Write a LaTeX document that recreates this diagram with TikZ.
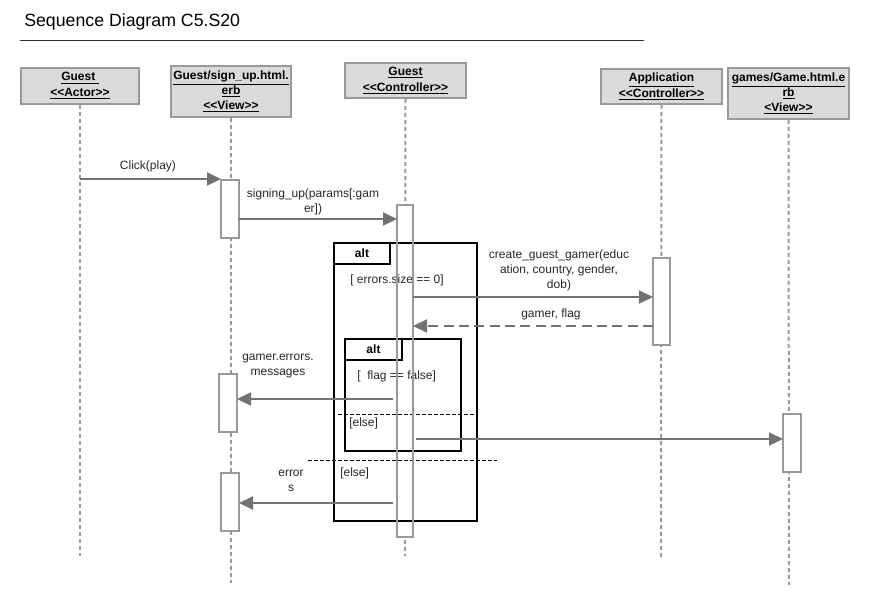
\documentclass[tikz,border=0pt]{standalone}
\usepackage{fontspec}
\setmainfont{Liberation Sans}
\usetikzlibrary{arrows.meta}
\definecolor{hdrfill}{HTML}{DADADA}
\definecolor{hdrline}{HTML}{999999}
\definecolor{msgcol}{HTML}{727272}
\begin{document}
\begin{tikzpicture}[x=0.75pt,y=-0.75pt,
  hdr/.style={draw=hdrline, fill=hdrfill, line width=1.5pt, font=\bfseries\fontsize{9}{11.25}\selectfont, align=center, inner sep=0pt},
  lifeline/.style={draw=hdrline, line width=1.5pt, dash pattern=on 3pt off 2.25pt},
  actbox/.style={draw=hdrline, fill=white, line width=1.5pt, inner sep=0pt, outer sep=0pt, minimum width=13.5pt},
  msgline/.style={draw=msgcol, line width=1.5pt, -{Triangle[length=10.5pt,width=9.75pt]}},
  retline/.style={msgline, dash pattern=on 7.5pt off 4pt},
  lbl/.style={font=\fontsize{9}{11.25}\selectfont, align=center, inner sep=0pt, text=black!85},
  condlbl/.style={font=\fontsize{9}{11.25}\selectfont, anchor=west, inner sep=0pt, text=black!85},
  frame/.style={draw=black, line width=1.5pt},
  tab/.style={draw=black, line width=1.5pt, font=\bfseries\fontsize{9}{11.25}\selectfont, inner sep=0pt, outer sep=0pt},
  divider/.style={draw=black, line width=0.75pt, dash pattern=on 3pt off 1.5pt}]
\useasboundingbox (0,0) rectangle (869,606);
% title
\node[anchor=west, font=\fontsize{13.3}{15}\selectfont, inner sep=0pt] (title) at (24,22) {Sequence Diagram C5.S20};
\coordinate (tl1) at (20,41); \coordinate (tl2) at (644,41);
\draw[line width=0.75pt, black!80] (tl1) -- (tl2);
% headers
\node[hdr, minimum width=88.5pt, minimum height=27pt] (h1) at (80,86) {\underline{Guest\ }\\[0.5pt]\underline{<{}<Actor>{}>}};
\node[hdr, minimum width=90pt, minimum height=38.25pt] (h2) at (231,91.5) {\underline{Guest/sign\_up.html.}\\\underline{erb}\\\underline{<{}<View>{}>}};
\node[hdr, minimum width=90.75pt, minimum height=26.25pt] (h3) at (405.5,80.5) {\underline{Guest}\\[0.5pt]\underline{<{}<Controller>{}>}};
\node[hdr, minimum width=90.75pt, minimum height=26.25pt] (h4) at (661.5,86.5) {\underline{Application}\\[0.5pt]\underline{<{}<Controller>{}>}};
\node[hdr, minimum width=90.75pt, minimum height=38.25pt] (h5) at (788.5,93.5) {\underline{games/Game.html.e}\\\underline{rb}\\\underline{<View>{}>}};
% lifeline ends
\coordinate (e1) at (80,556);
\coordinate (e2) at (231,583);
\coordinate (e3) at (405,556);
\coordinate (e4) at (661,557);
\coordinate (e5) at (789,585);
\draw[lifeline] (h1.south) -- (e1);
\draw[lifeline] (h2.south) -- (e2);
\draw[lifeline] (h3.south) -- (e3);
\draw[lifeline] (h4.south) -- (e4);
\draw[lifeline] (h5.south) -- (e5);
% activations
\node[actbox, minimum height=43.5pt] (a1) at (230,209) {};
\node[actbox, minimum width=12pt, minimum height=249pt] (a2) at (405,371) {};
\node[actbox, minimum width=12.75pt, minimum height=65.25pt] (a3) at (661.5,301.5) {};
\node[actbox, minimum height=43.5pt] (a4) at (228,403) {};
\node[actbox, minimum height=43.5pt] (a5) at (230,502) {};
\node[actbox, minimum height=43.5pt] (a6) at (792,443) {};
% outer alt frame
\coordinate (f1a) at (334,243); \coordinate (f1b) at (477,521);
\draw[frame] (f1a) rectangle (f1b);
\node[tab, minimum width=42pt, minimum height=15.75pt, anchor=north west] (t1) at (f1a) {alt};
\node[condlbl] (c1) at (350,280) {[ errors.size == 0]};
\coordinate (d1a) at (308,461); \coordinate (d1b) at (497,461);
\draw[divider] (d1a) -- (d1b);
\node[condlbl] (c2) at (340,473) {[else]};
% inner alt frame
\coordinate (f2a) at (345,339); \coordinate (f2b) at (461,451);
\draw[frame] (f2a) rectangle (f2b);
\node[tab, minimum width=42.75pt, minimum height=15.75pt, anchor=north west] (t2) at (f2a) {alt};
\node[condlbl] (c3) at (357,376) {[\ \ flag == false]};
\coordinate (d2a) at (338,415); \coordinate (d2b) at (474,415);
\draw[divider] (d2a) -- (d2b);
\node[condlbl] (c4) at (349,423) {[else]};
% redraw controller activation border on top
\draw[draw=hdrline, line width=1.5pt] (a2.south west) rectangle (a2.north east);
% messages
\coordinate (m1s) at (80,179);
\draw[msgline] (m1s) -- (a1.west |- m1s);
\node[lbl] (l1) at (148,166) {Click(play)};
\coordinate (m2s) at (239,219);
\draw[msgline] (m2s) -- (a2.west |- m2s);
\node[lbl] (l2) at (313,202) {signing\_up(params[:gam\\er])};
\coordinate (m3s) at (413,297);
\draw[msgline] (m3s) -- (a3.west |- m3s);
\node[lbl] (l3) at (559,270) {create\_guest\_gamer(educ\\ation, country, gender,\\dob)};
\coordinate (m4s) at (653,326); \coordinate (m4e) at (413,326);
\draw[retline] (m4s) -- (m4e);
\node[lbl] (l4) at (551,314) {gamer, flag};
\coordinate (m5s) at (393,399);
\draw[msgline] (m5s) -- (a4.east |- m5s);
\node[lbl] (l5) at (278,366) {gamer.errors.\\messages};
\coordinate (m6s) at (416,439);
\draw[msgline] (m6s) -- (a6.west |- m6s);
\coordinate (m7s) at (393,503);
\draw[msgline] (m7s) -- (a5.east |- m7s);
\node[lbl] (l7) at (291,481) {error\\s};
\end{tikzpicture}
\end{document}
